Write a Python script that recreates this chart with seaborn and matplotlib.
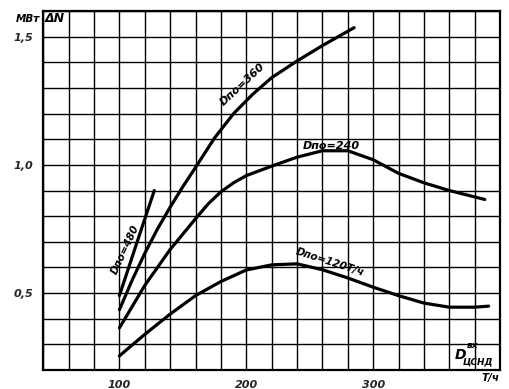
import numpy as np
import pandas as pd
import matplotlib
matplotlib.use("Agg")
import matplotlib.pyplot as plt
import seaborn as sns

# curves: D_po = 480, 360, 240, 120 t/h
x_480 = [100, 114, 127.5]
y_480 = [0.49, 0.70, 0.90]
x_360 = [100, 110, 120, 130, 140, 150, 160, 175, 190, 205, 220, 240, 260, 285]
y_360 = [0.435, 0.55, 0.655, 0.75, 0.835, 0.915, 0.99, 1.105, 1.2, 1.275, 1.34, 1.405, 1.465, 1.535]
x_240 = [100, 120, 140, 160, 170, 180, 190, 200, 220, 240, 260, 280, 300, 320, 340, 360, 380, 388]
y_240 = [0.364, 0.53, 0.67, 0.79, 0.848, 0.895, 0.93, 0.958, 0.995, 1.03, 1.055, 1.055, 1.02, 0.967, 0.93, 0.9, 0.875, 0.865]
x_120 = [100, 104, 120, 140, 160, 180, 200, 220, 240, 260, 280, 300, 320, 340, 360, 380, 391]
y_120 = [0.255, 0.272, 0.339, 0.418, 0.49, 0.545, 0.59, 0.61, 0.614, 0.591, 0.559, 0.523, 0.49, 0.461, 0.445, 0.445, 0.449]

x_ticks = [100, 200, 300]
y_ticks = [0.5, 1.0, 1.5]
y_ticklabels = ["0,5", "1,0", "1,5"]

frames = []
for name, xs, ys in [("480", x_480, y_480), ("360", x_360, y_360),
                     ("240", x_240, y_240), ("120", x_120, y_120)]:
    frames.append(pd.DataFrame({"x": xs, "y": ys, "curve": name}))
df = pd.concat(frames, ignore_index=True)

sns.set_style("white")
plt.rcParams["font.family"] = ["DejaVu Sans"]

fig = plt.figure(figsize=(5.09, 3.89), dpi=100)
ax = fig.add_axes([43.3 / 509, 19 / 389, 456.7 / 509, 359 / 389])

sns.lineplot(data=df, x="x", y="y", hue="curve", palette=["black"] * 4,
             estimator=None, legend=False, linewidth=2.3, ax=ax)

ax.set_xlim(40, 400)
ax.set_ylim(0.2, 1.6)
ax.set_xticks(x_ticks)
ax.set_xticklabels([str(t) for t in x_ticks], fontsize=8, fontstyle="italic", fontweight="bold")
ax.set_yticks(y_ticks)
ax.set_yticklabels(y_ticklabels, fontsize=8, fontstyle="italic", fontweight="bold")
ax.set_xticks(np.arange(40, 401, 20), minor=True)
ax.set_yticks(np.arange(0.2, 1.61, 0.1), minor=True)
ax.grid(True, which="both", color="black", linewidth=1.0)
ax.tick_params(which="major", direction="out", length=4, width=1.2, color="black", pad=3)
ax.tick_params(which="minor", length=0)
ax.set_xlabel("")
ax.set_ylabel("")
for s in ax.spines.values():
    s.set_color("black")
    s.set_linewidth(1.6)

txt = dict(color="black", fontstyle="italic", fontweight="bold")
ax.text(197, 1.315, "Dпо=360", rotation=43, ha="center", va="center", fontsize=8, **txt)
ax.text(267, 1.075, "Dпо=240", rotation=0, ha="center", va="center", fontsize=8, **txt)
ax.text(266, 0.62, "Dпо=120Т/ч", rotation=-18, ha="center", va="center", fontsize=7.5, **txt)
ax.text(105, 0.668, "Dпо=480", rotation=65, ha="center", va="center", fontsize=7.5, **txt)

fig.text(28 / 509, 1 - 19 / 389, "МВт", ha="center", va="center", fontsize=7.5, **txt)
fig.text(55 / 509, 1 - 19 / 389, "ΔN", ha="center", va="center", fontsize=9, **txt)
fig.text(460 / 509, 1 - 355 / 389, "D", ha="center", va="center", fontsize=10, **txt)
fig.text(472 / 509, 1 - 345 / 389, "вх", ha="center", va="center", fontsize=6.5, **txt)
fig.text(478 / 509, 1 - 362 / 389, "ЦСНД", ha="center", va="center", fontsize=6.5, **txt)
fig.text(491 / 509, 1 - 378 / 389, "Т/ч", ha="center", va="center", fontsize=7.5, **txt)

fig.savefig("out.png", dpi=100, facecolor="white")
